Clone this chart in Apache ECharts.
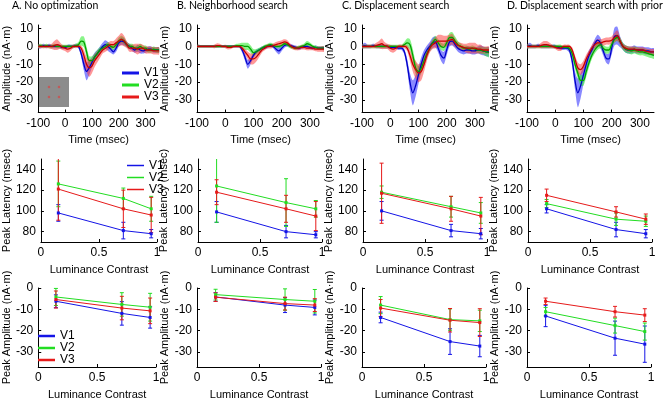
<!DOCTYPE html>
<html>
<head>
<meta charset="utf-8">
<script src="https://cdn.jsdelivr.net/npm/echarts@6/dist/echarts.min.js"></script>
<style>
  html, body { margin: 0; padding: 0; background: #fff; }
  #chart { width: 665px; height: 401px; }
</style>
</head>
<body>
<div id="chart"></div>
<script>
// time axis of the source waveforms (msec)
const times = [-100, -90, -80, -70, -60, -50, -40, -30, -20, -10,
  0, 10, 20, 30, 40, 50, 60, 70, 80, 90,
  100, 110, 120, 130, 140, 150, 160, 170, 180, 190,
  200, 210, 220, 230, 240, 250, 260, 270, 280, 290,
  300, 310, 320, 330, 340, 350]
const timeTicks = [-100, 0, 100, 200, 300]
const ampTicks = [-30, -20, -10, 0, 10]
const latTicks = [80, 100, 120, 140]
const peakAmpTicks = [-30, -20, -10, 0]
const contrastTicks = [0, 0.5, 1]
const contrast = [0.15, 0.71, 0.95]
const areaNames = ['V1', 'V2', 'V3']
const titles = ['A. No optimization', 'B. Neighborhood search', 'C. Displacement search', 'D. Displacement search with prior']

// A. No optimization
const erpA1 = [0, 0, 0.5, 0, 0.5, 0, 0, 0, 0, -0.5, -0.5, 0, 0, 0, 0.5, 0, -4, -10, -14, -12, -9, -6, -4, -2, 0, 1, 0, -1.5, -3, -1, 2, 3, 2.5, 1, 0, -1, -2, -1, -2, -2.5, -2, -1.5, -1.5, -2, -2, -2]
const erpA2 = [0, 0.5, 0, 0.5, 0, 0, 0.5, 0, 0, 0, 0, 0, 0, 0, 0.5, 1, 3, 2.5, -3, -8, -8, -6, -4, -2, -1, 0, 1, 0, -0.5, 1, 3, 4, 3, 1, 0, 0, -1, -1, 0, -1, -1, -2, -2, -1.5, -2, -2]
const erpA3 = [0, 0, 0, 0, 0, 0, 0.5, 1, 0.5, -0.5, -1, -1.5, -1, 0, 0, 0, -1, -5, -10, -12, -11, -8, -6, -4, -2, -1, 0, 1, 1, 2, 3, 4, 3, 1, -1, -1, -1, -1.5, -1, -1, -2, -2, -2, -2.5, -2.5, -2.5]
const bandA1 = [1, 1, 1, 1, 1, 1, 1, 1, 1, 1, 1, 1, 1, 1, 1, 1, 2, 3.5, 5, 4, 3, 2.5, 2, 2, 2, 2.5, 2.5, 2, 1.5, 2, 2, 2, 2, 1.5, 1.5, 1.5, 1.5, 2, 2, 1.5, 1.5, 1.5, 1.5, 1.5, 1.5, 1.5]
const bandA2 = [1, 1, 1, 1, 1, 1, 1, 1, 1, 1, 1, 1, 1, 1, 1, 1.5, 2.5, 3, 3, 2.5, 2.5, 2, 2, 1.5, 1.5, 1.5, 1.5, 1.5, 1.5, 1.5, 2, 2, 2, 1.5, 1.5, 1.5, 1.5, 1.5, 1.5, 1.5, 1.5, 1.5, 1.5, 1.5, 1.5, 1.5]
const bandA3 = [1, 1, 1, 1, 1, 1.5, 2.5, 3, 2, 1.5, 1.5, 2, 1.5, 1, 1, 1, 1.5, 3, 4, 5, 4, 3.5, 3, 2.5, 2, 2, 2, 2, 2, 2.5, 3, 3.5, 3, 2, 2, 2, 2.5, 3, 2.5, 2, 2, 2, 2, 2, 2, 2]

// B. Neighborhood search
const erpB1 = [0, 0, 0, 0, 0, 0, 0, 0, 0, 0, 0, 0, 0, 0, 0, 0, -2, -6, -10, -8, -5, -3, -2, -1, -0.5, 0, 0.5, 0, -1.5, -2.5, -1, 0.5, 1, 0.5, 0, -0.5, -1, -0.5, 0, 0, -0.5, -1, -0.5, -1, -1, -1]
const erpB2 = [0, 0, 0, 0, 0, 0, 0, 0, 0, 0, 0, 0, 0, 0, 0.5, 0.5, 0.5, 0, 0, -1.5, -3.5, -3, -2, -1, 0, 0.5, 1, 0.5, 0, 0, 0.5, 1.5, 1, 0, -0.5, -1, -0.5, 0, 0.5, 1.5, 1, 0, -0.5, -1, -1, -1]
const erpB3 = [0, 0, 0, 0, 0, 0, 0, 0.5, 0.5, 0, 0, -0.5, -0.5, 0, 0, 0, -1, -3, -5, -7, -7, -6, -4, -2, -1, 0, 0, 0.5, 1, 1.5, 2, 2.5, 2, 0.5, -0.5, -1, -1, -0.5, -0.5, -1, -1, -1, -1.5, -1.5, -1.5, -1.5]
const bandB1 = [0.8, 0.8, 0.8, 0.8, 0.8, 0.8, 0.8, 0.8, 0.8, 0.8, 0.8, 0.8, 0.8, 0.8, 0.8, 0.8, 1.5, 2, 2.5, 2, 1.5, 1.2, 1, 1, 1, 1, 1, 1, 1.5, 2, 1.5, 1.2, 1, 1, 1, 1, 1, 1, 1, 1, 1, 1, 1, 1, 1, 1]
const bandB2 = [0.8, 0.8, 0.8, 0.8, 0.8, 0.8, 0.8, 0.8, 0.8, 0.8, 0.8, 0.8, 0.8, 0.8, 1, 1.2, 1.5, 2, 2, 2, 2, 1.5, 1.2, 1, 1, 1, 1, 1, 1, 1, 1, 1, 1, 1, 1, 1, 1, 1, 1.2, 1.5, 1.2, 1, 1, 1, 1, 1]
const bandB3 = [0.8, 0.8, 0.8, 0.8, 0.8, 0.8, 1, 1.2, 1, 0.8, 1, 1.2, 1, 0.8, 0.8, 0.8, 1, 1.5, 2, 3, 3, 2.5, 2, 1.5, 1.2, 1.2, 1.2, 1.2, 1.5, 1.5, 1.5, 1.5, 1.5, 1.2, 1.2, 1.2, 1.2, 1.2, 1.2, 1.2, 1.2, 1.2, 1.2, 1.5, 1.5, 1.5]

// C. Displacement search
const erpC1 = [0, 0.5, 0, 0, 0.5, 0, 0, 0, 0, 0, -0.5, -0.5, -0.5, -1, -1, -3, -10, -20, -26, -22, -16, -10, -5, -2, 0, 2, 2.5, -1, -5, -6.5, -2, 2.5, 3, 1, -1, -2, -2.5, -2, -2, -2.5, -2.5, -2, -2, -2.5, -3, -3]
const erpC2 = [0, 0, 0, 0, 0, 0, 0, 0, 0, 0, 0, 0, 0, 0, 0, 1, 2, 1, -5, -12, -14, -12, -8, -4, -1, 2, 4, 2, 0, -0.5, 2, 5, 5, 3, 1, 0, -1, -1, -1.5, -1, -1.5, -2, -2, -2.5, -3, -3.5]
const erpC3 = [0, 0, 0, 0, 0, 0.5, 1, 1.5, 0.5, 0, -1, -1.5, -1, 0, 0, 0, -1, -5, -10, -13, -15, -14, -10, -5, -1, 1, 2, 3, 3, 3, 3, 3.5, 4, 2, 0.5, 0, -0.5, -1, -1, -1, -1, -1.5, -1.5, -2, -2, -2]
const bandC1 = [1, 1.5, 1, 1, 1, 1, 1, 1, 1, 1, 1, 1, 1, 1, 1, 1.5, 3, 5, 7, 6, 5, 4, 3, 2.5, 2.5, 3, 3, 2.5, 3, 3.5, 3, 2.5, 2.5, 2, 2, 2, 2, 2, 2, 2, 2, 2, 2.5, 2.5, 2.5, 2.5]
const bandC2 = [1, 1, 1, 1, 1, 1, 1, 1, 1, 1, 1, 1, 1, 1, 1, 1.5, 2.5, 3, 3.5, 3.5, 3, 3, 3, 2.5, 2, 2, 2, 2, 2, 2, 2, 2.5, 3, 2.5, 2, 1.5, 1.5, 1.5, 1.5, 1.5, 1.5, 1.5, 2, 2, 2.5, 2.5]
const bandC3 = [1, 1, 1, 1, 1, 1.5, 2, 3, 2, 1.5, 2, 2, 1.5, 1, 1, 1, 1.5, 3, 4, 5, 5, 5, 4, 3, 2.5, 2.5, 3, 3.5, 3.5, 3, 3, 3, 3, 2.5, 2, 2, 2, 2.5, 3, 3, 3, 2.5, 2.5, 2, 2, 2]

// D. Displacement search with prior
const erpD1 = [0, 0.5, 0, 0, 0.5, 0, 0, 0, 0, 0, 0, -0.5, -1, -1, -1, -2, -8, -19, -26, -22, -16, -10, -5, -2, 1.5, 3.5, 2, -2.5, -6.5, -7, -1, 5.5, 6, 2.5, 0, -1.5, -2, -2, -1.5, -2, -2, -2, -2.5, -2.5, -3, -3]
const erpD2 = [0, 0, 0, 0, 0, 0, 0, 0, 0, 0, 0, 0, 0, -0.5, -0.5, -1, -4, -10, -15, -19, -19, -14, -9, -5, -2, 0, 1, -1, -2, -2, 1, 4, 5, 3, 0, -1.5, -2, -2.5, -2, -2.5, -3, -3, -3.5, -4, -4.5, -5]
const erpD3 = [0, 0, 0, 0, 0, 0.5, 1, 1, 0.5, 0, -0.5, -1, -1, 0, 0, 0, -2, -7, -12, -13, -11, -7, -4, -1, 1, 2, 2, 2.5, 3, 3, 3.5, 5, 6, 3, 0, -1, -1.5, -1.5, -1.5, -2, -2, -2, -2.5, -3, -3, -3]
const bandD1 = [1, 1.5, 1, 1, 1, 1, 1, 1, 1, 1, 1, 1, 1, 1, 1, 1.5, 3, 5, 8, 7, 5, 4, 3, 2.5, 2.5, 3, 3, 2.5, 2.5, 3, 3.5, 5, 5, 3, 2, 2, 2, 2, 2, 2, 2, 2, 2, 2, 2, 2]
const bandD2 = [1, 1, 1, 1, 1, 1, 1, 1, 1, 1, 1, 1, 1, 1, 1, 1.5, 2, 2.5, 3, 3, 3, 3, 2.5, 2, 2, 2, 2, 2, 2, 2, 2, 2, 2, 2, 2, 2, 2, 2, 2, 2, 2, 2, 2, 2, 2, 2]
const bandD3 = [1, 1, 1, 1, 1, 1.5, 2, 2, 1.5, 1, 1, 1.5, 1.5, 1, 1, 1, 1.5, 2, 3, 3, 3, 2.5, 2, 2, 2, 2, 2, 2, 2, 2, 2, 2.5, 3, 2, 1.5, 1.5, 1.5, 1.5, 1.5, 1.5, 1.5, 1.5, 1.5, 1.5, 1.5, 1.5]

// peak latency (msec) vs luminance contrast, with error half-widths
const latA1 = [98, 81, 78], latA1Err = [8, 8, 4]
const latA2 = [126, 112, 102], latA2Err = [22, 10, 12]
const latA3 = [121, 102, 96], latA3Err = [30, 18, 17]
const latB1 = [99, 80, 77], latB1Err = [10, 6, 3]
const latB2 = [124, 108, 102], latB2Err = [35, 23, 8]
const latB3 = [118, 102, 95], latB3Err = [12, 13, 14]
const latC1 = [100, 81, 78], latC1Err = [9, 6, 5]
const latC2 = [118, 104, 98], latC2Err = [6, 10, 10]
const latC3 = [117, 102, 95], latC3Err = [29, 12, 18]
const latD1 = [102, 82, 78], latD1Err = [4, 7, 4]
const latD2 = [107, 92, 90], latD2Err = [4, 6, 5]
const latD3 = [115, 99, 92], latD3Err = [6, 5, 5]

// peak amplitude (nA·m) vs luminance contrast, with error half-widths
const ampA1 = [-6.2, -11.9, -13.8], ampA1Err = [3, 5.5, 5]
const ampA2 = [-4.2, -7.7, -9], ampA2Err = [4, 5.5, 6.5]
const ampA3 = [-5.4, -9.4, -10.7], ampA3Err = [4, 5.5, 6]
const ampB1 = [-4.2, -8, -9.1], ampB1Err = [2, 3.5, 3.5]
const ampB2 = [-3.1, -5.4, -6.2], ampB2Err = [2.5, 5, 5.5]
const ampB3 = [-4.3, -7.3, -8], ampB3Err = [2, 3, 3]
const ampC1 = [-13.8, -25.1, -27.2], ampC1Err = [2.5, 6, 5]
const ampC2 = [-8, -14.8, -15.4], ampC2Err = [4, 5, 5]
const ampC3 = [-9.4, -15.1, -16.2], ampC3Err = [4, 5.5, 6.5]
const ampD1 = [-13.1, -23.5, -26.3], ampD1Err = [5, 8, 8.5]
const ampD2 = [-11.1, -17.6, -20.4], ampD2Err = [2, 3.5, 4]
const ampD3 = [-6.2, -11.1, -12.7], ampD3Err = [1.5, 2.5, 3]

const lineColors = ['#1414e6', '#22dd22', '#e61a1a']
const erpColors = ['#0000c8', '#00a000', '#c80000']
const bandColors = ['rgba(40,40,255,0.55)', 'rgba(40,235,40,0.55)', 'rgba(255,50,50,0.5)']
const font = 'Liberation Sans, Arial, sans-serif'

const panels = [
    {erp: [erpA1, erpA2, erpA3], band: [bandA1, bandA2, bandA3], lat: [latA1, latA2, latA3], latErr: [latA1Err, latA2Err, latA3Err], amp: [ampA1, ampA2, ampA3], ampErr: [ampA1Err, ampA2Err, ampA3Err]},
    {erp: [erpB1, erpB2, erpB3], band: [bandB1, bandB2, bandB3], lat: [latB1, latB2, latB3], latErr: [latB1Err, latB2Err, latB3Err], amp: [ampB1, ampB2, ampB3], ampErr: [ampB1Err, ampB2Err, ampB3Err]},
    {erp: [erpC1, erpC2, erpC3], band: [bandC1, bandC2, bandC3], lat: [latC1, latC2, latC3], latErr: [latC1Err, latC2Err, latC3Err], amp: [ampC1, ampC2, ampC3], ampErr: [ampC1Err, ampC2Err, ampC3Err]},
    {erp: [erpD1, erpD2, erpD3], band: [bandD1, bandD2, bandD3], lat: [latD1, latD2, latD3], latErr: [latD1Err, latD2Err, latD3Err], amp: [ampD1, ampD2, ampD3], ampErr: [ampD1Err, ampD2Err, ampD3Err]}
]
const colX = [0, 165, 330, 495]

function makeAxis(gridIndex, min, max, ticks, name, nameGap) {
    return {
        gridIndex, type: 'value', min, max,
        name, nameLocation: 'middle', nameGap,
        nameTextStyle: {fontSize: 11, fontFamily: font, color: '#000'},
        axisLine: {show: true, onZero: false, lineStyle: {color: '#000', width: 1}},
        axisTick: {show: true, inside: true, length: 3, customValues: ticks, lineStyle: {color: '#000'}},
        axisLabel: {customValues: ticks, fontSize: 12, fontFamily: font, color: '#000', margin: 5},
        splitLine: {show: false}
    }
}

// 误差棒
function errBar(color) {
    return function (params, api) {
        let x = api.value(0), m = api.value(1), e = api.value(2)
        let hi = api.coord([x, m + e]), lo = api.coord([x, m - e])
        let cs = params.coordSys
        let top = Math.max(hi[1], cs.y), bot = Math.min(lo[1], cs.y + cs.height)
        let style = {stroke: color, lineWidth: 1}
        let children = [{type: 'line', shape: {x1: hi[0], y1: top, x2: hi[0], y2: bot}, style}]
        if (hi[1] >= cs.y) children.push({type: 'line', shape: {x1: hi[0] - 2, y1: hi[1], x2: hi[0] + 2, y2: hi[1]}, style})
        if (lo[1] <= cs.y + cs.height) children.push({type: 'line', shape: {x1: lo[0] - 2, y1: lo[1], x2: lo[0] + 2, y2: lo[1]}, style})
        return {type: 'group', children}
    }
}

// 置信带：在第一个数据项处画出整个多边形
function bandPoly(color) {
    return function (params, api) {
        if (params.dataIndex !== 0) return null
        let up = [], down = []
        for (let i = 0; i < times.length; i++) {
            let t = api.value(0, i), lo = api.value(1, i), hi = api.value(2, i)
            up.push(api.coord([t, hi]))
            down.unshift(api.coord([t, lo]))
        }
        return {type: 'polygon', shape: {points: up.concat(down), smooth: 0.25}, style: {fill: color}}
    }
}

let grids = [], xAxes = [], yAxes = [], series = [], title = []

panels.forEach((p, c) => {
    let g = c * 3
    grids.push({left: 32 + colX[c], top: 25, width: 127, height: 87.5})
    grids.push({left: 33 + colX[c], top: 159, width: 124, height: 83})
    grids.push({left: 32 + colX[c], top: 288, width: 124, height: 79.5})

    xAxes.push(makeAxis(g, -100, 350, timeTicks, 'Time (msec)', 22))
    yAxes.push(makeAxis(g, -37, 12, ampTicks, 'Amplitude (nA·m)', 20))
    xAxes.push(makeAxis(g + 1, 0, 1, contrastTicks, 'Luminance Contrast', 22))
    yAxes.push(makeAxis(g + 1, 70, 150, latTicks, 'Peak Latency (msec)', 20))
    xAxes.push(makeAxis(g + 2, 0, 1, contrastTicks, 'Luminance Contrast', 22))
    yAxes.push(makeAxis(g + 2, -37, 0, peakAmpTicks, 'Peak Amplitude (nA·m)', 20))

    title.push({
        text: titles[c], left: 12 + colX[c], top: 0, padding: 0,
        textStyle: {fontSize: 10.5, fontWeight: 'normal', fontFamily: 'Lato, sans-serif', color: '#000'}
    })

    for (let v = 0; v < 3; v++) {
        series.push({
            type: 'custom', xAxisIndex: g, yAxisIndex: g, encode: {x: 0, y: [1, 2]},
            data: times.map((t, i) => [t, p.erp[v][i] - p.band[v][i], p.erp[v][i] + p.band[v][i]]),
            renderItem: bandPoly(bandColors[v]), clip: true, silent: true, z: 1
        })
    }
    for (let v = 0; v < 3; v++) {
        series.push({
            type: 'line', name: areaNames[v], xAxisIndex: g, yAxisIndex: g,
            data: times.map((t, i) => [t, p.erp[v][i]]),
            symbol: 'none', smooth: 0.3, lineStyle: {color: erpColors[v], width: 1.3}, itemStyle: {color: lineColors[v]}, z: 3
        })
        // latency
        series.push({
            type: 'custom', xAxisIndex: g + 1, yAxisIndex: g + 1, encode: {x: 0, y: 1},
            data: contrast.map((x, i) => [x, p.lat[v][i], p.latErr[v][i]]),
            renderItem: errBar(lineColors[v]), silent: true, z: 2
        })
        series.push({
            type: 'line', name: areaNames[v], xAxisIndex: g + 1, yAxisIndex: g + 1,
            data: contrast.map((x, i) => [x, p.lat[v][i]]),
            symbol: 'rect', symbolSize: 3, lineStyle: {color: lineColors[v], width: 1}, itemStyle: {color: lineColors[v]}, z: 3
        })
        // amplitude
        series.push({
            type: 'custom', xAxisIndex: g + 2, yAxisIndex: g + 2, encode: {x: 0, y: 1},
            data: contrast.map((x, i) => [x, p.amp[v][i], p.ampErr[v][i]]),
            renderItem: errBar(lineColors[v]), silent: true, z: 2
        })
        series.push({
            type: 'line', name: areaNames[v], xAxisIndex: g + 2, yAxisIndex: g + 2,
            data: contrast.map((x, i) => [x, p.amp[v][i]]),
            symbol: 'rect', symbolSize: 3, lineStyle: {color: lineColors[v], width: 1}, itemStyle: {color: lineColors[v]}, z: 3
        })
    }
})

function legendAt(left, top, lineHeight, h) {
    return {
        orient: 'vertical', left, top, padding: 0, itemGap: 0, selectedMode: false,
        icon: 'rect', itemWidth: 17, itemHeight: h, data: areaNames,
        textStyle: {fontSize: 12, fontFamily: font, color: '#000', lineHeight}
    }
}

let chart = echarts.init(document.getElementById('chart'))
chart.setOption({
    animation: false,
    backgroundColor: '#fff',
    title,
    grid: grids,
    xAxis: xAxes,
    yAxis: yAxes,
    legend: [legendAt(122, 67, 9.3, 3), legendAt(127, 159.5, 9.8, 1.5), legendAt(38, 330, 11.5, 2.5)],
    graphic: [
        {type: 'rect', left: 39, top: 77, shape: {width: 30, height: 30}, style: {fill: '#8c8c8c'}, z: 10},
        {type: 'circle', shape: {cx: 49, cy: 87, r: 1.3}, style: {fill: '#c05a5a'}, z: 11},
        {type: 'circle', shape: {cx: 59, cy: 87, r: 1.3}, style: {fill: '#c05a5a'}, z: 11},
        {type: 'circle', shape: {cx: 49, cy: 97, r: 1.3}, style: {fill: '#c05a5a'}, z: 11},
        {type: 'circle', shape: {cx: 59, cy: 97, r: 1.3}, style: {fill: '#c05a5a'}, z: 11}
    ],
    series
})
</script>
</body>
</html>
